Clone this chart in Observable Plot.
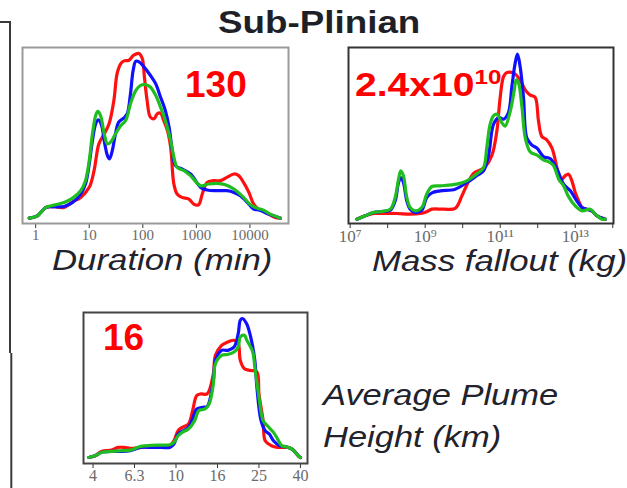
<!DOCTYPE html>
<html><head><meta charset="utf-8">
<script src="https://cdn.jsdelivr.net/npm/d3@7"></script>
<script src="https://cdn.jsdelivr.net/npm/@observablehq/plot@0.6"></script>
<style>
html,body{margin:0;padding:0;background:#fff;}
#stage{position:relative;width:627px;height:488px;overflow:hidden;background:#fff;}
.pl{position:absolute;}
.pl svg{display:block;background:transparent;}
#overlay{position:absolute;left:0;top:0;}
</style></head><body>
<div id="stage"></div>
<script>
// ---- data: kernel-density curves (x = log10 of value, y = density, arbitrary units)
// Duration (min)
const durationRed = [[-0.12,0],[0.03,1.4],[0.19,6.4],[0.34,6.8],[0.53,6.4],[0.69,9.8],[0.84,12.4],[1.00,18.4],[1.09,28.4],[1.18,44.4],[1.28,50.4],[1.37,56.4],[1.46,70.4],[1.52,86.4],[1.59,92.4],[1.65,94],[1.74,94.4],[1.83,97.4],[1.93,98.4],[1.99,95.4],[2.03,84.4],[2.08,70.4],[2.14,60.4],[2.21,59.4],[2.27,62.4],[2.33,62.8],[2.39,58.4],[2.46,52.4],[2.52,42.4],[2.58,20.4],[2.64,14.4],[2.73,12.4],[2.86,11.4],[2.95,8.4],[3.04,8],[3.11,14.4],[3.20,21.4],[3.32,22.4],[3.45,22.4],[3.57,24.4],[3.70,26.4],[3.79,25.4],[3.88,21.4],[3.98,15.4],[4.07,8.4],[4.16,5.4],[4.25,4.4],[4.35,2.4],[4.47,0.4],[4.57,0]];
const durationBlue = [[-0.12,0],[0.03,1.4],[0.19,6.4],[0.34,6.8],[0.53,7],[0.69,9.4],[0.84,14.4],[0.93,20.4],[1.00,32.4],[1.06,46.4],[1.12,56.4],[1.17,58.8],[1.23,55.4],[1.29,44.4],[1.34,37.4],[1.38,35.4],[1.43,40.4],[1.49,50.4],[1.55,57.4],[1.65,60],[1.71,62.4],[1.77,74.4],[1.82,88.4],[1.87,93.8],[1.93,93.4],[2.02,90.4],[2.14,85.4],[2.24,80.4],[2.33,72.4],[2.42,64.4],[2.49,54.4],[2.55,40.4],[2.61,31.4],[2.73,29.4],[2.89,26.4],[3.08,18.4],[3.20,16.8],[3.39,16.4],[3.57,16.4],[3.70,15.4],[3.82,13.4],[3.98,8.4],[4.07,5.4],[4.19,4.8],[4.32,2.8],[4.44,1.4],[4.57,0]];
const durationGreen = [[-0.12,0],[0.03,1.4],[0.19,6.4],[0.34,7.8],[0.53,9.4],[0.69,12],[0.84,16.4],[0.93,22.4],[1.00,34.4],[1.06,50.4],[1.12,61.4],[1.16,63.8],[1.21,61.4],[1.28,50.4],[1.34,44.4],[1.40,45.4],[1.49,50.4],[1.59,55.4],[1.68,58.4],[1.77,68.4],[1.87,76.4],[1.96,79.4],[2.05,79.8],[2.14,78.4],[2.24,73.4],[2.33,66.4],[2.42,58.4],[2.52,46.4],[2.58,36.4],[2.64,30.4],[2.77,28.4],[2.89,25.4],[3.08,19.4],[3.23,20.4],[3.39,20.8],[3.54,20],[3.70,17.4],[3.88,12.4],[4.01,8],[4.13,6],[4.25,4.8],[4.38,2.4],[4.57,0]];
const durationTicks = [0,1,2,3,4];
const durationTickLabels = ["1","10","100","1000","10000"];

// Mass fallout (kg)
const massRed = [[7.18,0],[7.40,2],[7.62,3.4],[7.84,3.4],[8.24,3.4],[8.60,3],[8.87,3.4],[9.04,4.5],[9.18,6],[9.49,6],[9.80,6.5],[9.98,14],[10.11,20.5],[10.29,27.5],[10.47,29.5],[10.60,31.5],[10.78,38.4],[10.91,52.8],[11.00,73.2],[11.09,85.6],[11.18,88],[11.36,87.6],[11.53,83.6],[11.67,77.4],[11.80,74.4],[11.93,73.2],[12.02,59],[12.11,49.6],[12.24,47.6],[12.38,42.6],[12.51,31],[12.60,23],[12.73,26],[12.82,27],[12.91,23],[13.00,16],[13.09,11],[13.18,7],[13.31,6],[13.44,5],[13.58,2],[13.80,0]];
const massBlue = [[7.18,0],[7.40,2],[7.62,4],[7.84,4.6],[8.07,5.4],[8.20,11],[8.29,22],[8.35,25],[8.42,22],[8.51,11],[8.60,6],[8.73,4],[8.91,5.4],[9.04,13],[9.18,15.8],[9.40,17],[9.80,18],[10.11,22],[10.38,26.2],[10.56,29.2],[10.69,38.4],[10.82,56.8],[10.96,61],[11.09,60],[11.22,64],[11.31,79.4],[11.40,93.8],[11.46,99],[11.53,91.8],[11.62,73.2],[11.71,48.6],[11.84,44.6],[11.98,42.6],[12.16,37.4],[12.33,36.4],[12.51,30.2],[12.69,21],[12.87,17],[13.04,11],[13.18,7],[13.31,6],[13.44,5],[13.58,2],[13.80,0]];
const massGreen = [[7.18,0],[7.40,2],[7.62,4],[7.84,4.6],[8.07,6],[8.20,13],[8.29,24],[8.35,29],[8.42,26],[8.51,13],[8.60,7],[8.73,5],[8.91,7],[9.04,15],[9.18,19.6],[9.40,20],[9.84,21],[10.11,23],[10.38,27.2],[10.56,31.2],[10.64,42.6],[10.73,56.8],[10.82,62],[10.91,63],[11.04,58],[11.13,55.8],[11.27,65],[11.36,75.4],[11.43,83.6],[11.49,81.6],[11.58,67.2],[11.67,48.6],[11.80,40.4],[11.98,38.4],[12.16,35.4],[12.29,34.4],[12.42,32.2],[12.56,24],[12.69,20],[12.81,14],[13.00,8],[13.18,5],[13.40,6],[13.53,3],[13.71,0],[13.80,0]];
const massTicks = [7,8,9,10,11,12,13,14];
const massTickLabels = ["10\u2077","","10\u2079","","10\u00B9\u00B9","","10\u00B9\u00B3",""];

// Average plume height (km)
const heightRed = [[0.58,0],[0.61,1],[0.64,3.6],[0.69,4.4],[0.72,6],[0.75,6],[0.78,5.4],[0.83,6],[0.88,6.4],[0.93,6.4],[0.97,7],[0.99,10],[1.01,16],[1.03,18],[1.06,20],[1.08,28],[1.10,37],[1.12,38],[1.15,38],[1.18,50],[1.19,61],[1.22,67],[1.25,69],[1.28,70],[1.30,68],[1.31,58],[1.33,53],[1.36,52],[1.39,51],[1.40,38],[1.42,22],[1.43,10],[1.46,7],[1.49,6],[1.54,6],[1.56,5],[1.59,1],[1.60,0]];
const heightBlue = [[0.58,0],[0.61,1],[0.64,3],[0.69,3.6],[0.73,3.6],[0.78,4],[0.83,6],[0.88,6],[0.93,6],[0.97,6],[0.99,8],[1.01,14],[1.03,15.6],[1.06,18],[1.08,23],[1.10,29],[1.13,30],[1.15,30.4],[1.18,46],[1.19,58],[1.22,64],[1.25,64],[1.28,66],[1.30,74],[1.31,82],[1.32,83],[1.34,80],[1.36,72],[1.38,58],[1.39,42],[1.41,22],[1.43,16],[1.45,14],[1.47,10],[1.50,7],[1.53,6.4],[1.56,5],[1.59,1],[1.60,0]];
const heightGreen = [[0.58,0],[0.61,1],[0.64,3],[0.69,3.6],[0.73,4],[0.78,4.4],[0.83,6.6],[0.88,7.2],[0.93,7.4],[0.97,7.6],[0.99,9],[1.01,13],[1.03,15],[1.06,17],[1.09,22],[1.11,28],[1.14,29],[1.16,32],[1.18,44],[1.19,56],[1.22,61],[1.25,61.6],[1.28,63],[1.30,66],[1.31,72],[1.33,73],[1.34,70.4],[1.37,63],[1.38,54],[1.40,36],[1.42,22],[1.44,19],[1.47,15],[1.49,11],[1.51,7],[1.53,6.4],[1.56,5],[1.59,1],[1.60,0]];
const heightTicks = [0.6,0.8,1.0,1.2,1.4,1.6];
const heightTickLabels = ["4","6.3","10","16","25","40"];

const seriesColors = {red: "#ff1010", blue: "#1010ff", green: "#20bd20"};

// ---- layout
const stage = document.getElementById("stage");

// overlay texts (drawn beneath the panels)
const overlay = `
<svg id="overlay" width="627" height="488" xmlns="http://www.w3.org/2000/svg" font-family="'Liberation Sans', Arial, sans-serif">
  <path d="M0,22H10V353" stroke="#3a3a3a" stroke-width="2" fill="none"/>
  <path d="M11.3,353V488" stroke="#3a3a3a" stroke-width="2" fill="none"/>
  <text transform="translate(218,33) scale(1.15,1)" font-weight="bold" font-size="32" fill="#1f1f28">Sub-Plinian</text>
  <text transform="translate(52,270) scale(1.16,1)" font-style="italic" font-size="30" fill="#22222c">Duration (min)</text>
  <text transform="translate(372,271) scale(1.16,1)" font-style="italic" font-size="30" fill="#22222c">Mass fallout (kg)</text>
  <text transform="translate(323,405) scale(1.15,1)" font-style="italic" font-size="30" fill="#22222c">Average Plume</text>
  <text transform="translate(323,447) scale(1.15,1)" font-style="italic" font-size="30" fill="#22222c">Height (km)</text>
  <text x="185" y="97" font-weight="bold" font-size="37" fill="#ff0000">130</text>
  <text x="103" y="350" font-weight="bold" font-size="37" fill="#ff0000">16</text>
  <text transform="translate(355,96) scale(1.15,1)" font-weight="bold" font-size="34" fill="#ff0000">2.4x10<tspan font-size="21" dy="-12">10</tspan></text>
</svg>`;
stage.insertAdjacentHTML("beforeend", overlay);

function panel({left, top, width, height, marginBottom, xDomain, yDomain, ticks, labels, frameColor, labelSize, series}) {
  const marks = [Plot.frame({stroke: frameColor, strokeWidth: 2})];
  for (const s of series) {
    marks.push(Plot.line(s.data, {x: d => d[0], y: d => d[1], stroke: s.color, strokeWidth: 3.2, curve: "catmull-rom"}));
  }
  // tick labels as a text mark, positioned by the x scale under the frame
  marks.push(Plot.text(ticks, {
    x: d => d, text: (d, i) => labels[i], frameAnchor: "bottom", lineAnchor: "top", dy: 6,
    fontSize: labelSize, fontFamily: "'Liberation Serif', 'Times New Roman', serif", fill: "#6a6a6a"
  }));
  const svg = Plot.plot({
    width, height,
    marginLeft: 10, marginRight: 14, marginTop: 10, marginBottom,
    x: {domain: xDomain, ticks, tickFormat: () => "", tickSize: 5, tickPadding: 1, label: null},
    y: {domain: yDomain, axis: null},
    style: {background: "transparent", color: "#333", overflow: "visible"},
    marks
  });
  const div = document.createElement("div");
  div.className = "pl";
  div.style.left = left + "px";
  div.style.top = top + "px";
  div.appendChild(svg);
  stage.appendChild(div);
}

panel({
  left: 12, top: 37, width: 290, height: 210, marginBottom: 24,
  xDomain: [-0.246, 4.72], yDomain: [-3.2, 102],
  ticks: durationTicks, labels: durationTickLabels,
  frameColor: "#9a9a9a", labelSize: 15,
  series: [
    {data: durationRed, color: seriesColors.red},
    {data: durationBlue, color: seriesColors.blue},
    {data: durationGreen, color: seriesColors.green}
  ]
});

panel({
  left: 338, top: 37, width: 289, height: 210, marginBottom: 24,
  xDomain: [6.956, 14.02], yDomain: [-2.6, 103],
  ticks: massTicks, labels: massTickLabels,
  frameColor: "#333333", labelSize: 17,
  series: [
    {data: massRed, color: seriesColors.red},
    {data: massBlue, color: seriesColors.blue},
    {data: massGreen, color: seriesColors.green}
  ]
});

panel({
  left: 73, top: 302, width: 248, height: 186, marginBottom: 25,
  xDomain: [0.554, 1.634], yDomain: [-3.6, 86.6],
  ticks: heightTicks, labels: heightTickLabels,
  frameColor: "#444444", labelSize: 16,
  series: [
    {data: heightRed, color: seriesColors.red},
    {data: heightBlue, color: seriesColors.blue},
    {data: heightGreen, color: seriesColors.green}
  ]
});
</script>
</body></html>
